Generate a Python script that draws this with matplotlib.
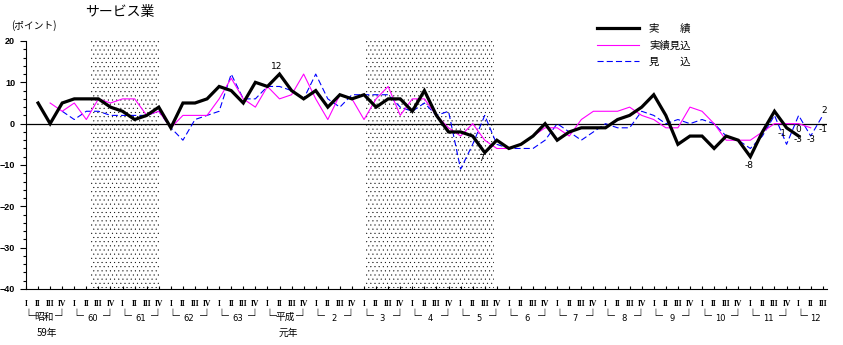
import numpy as np
import matplotlib
matplotlib.use("Agg")
import matplotlib.pyplot as plt
from matplotlib.ticker import MultipleLocator

plt.rcParams['font.family'] = ['Noto Sans CJK JP', 'DejaVu Sans']
plt.rcParams['hatch.linewidth'] = 0.25

nan = np.nan

# Quarterly series, 昭和59年 I  ...  平成12年 III
quarters = ["I", "II", "III", "IV"] * 16 + ["I", "II", "III"]
year_names = ["昭和", "60", "61", "62", "63", "平成", "2", "3", "4", "5",
              "6", "7", "8", "9", "10", "11", "12"]
year_sub = ["59年", "", "", "", "", "元年", "", "", "", "", "", "", "", "", "", "", ""]

actual = [nan, 5, 0, 5, 6, 6, 6, 4, 3, 1, 2, 4, -1, 5, 5, 6, 9, 8, 5, 10,
          9, 12, 8, 6, 8, 4, 7, 6, 7, 4, 6, 6, 3, 8, 2, -2, -2, -3, -7, -4,
          -6, -5, -3, 0, -4, -2, -1, -1, -1, 1, 2, 4, 7, 2, -5, -3, -3, -6, -3, -4,
          -8, -2, 3, -1, -3, nan, nan]
estimate = [nan, nan, 5, 3, 5, 1, 6, 5, 6, 6, 2, 3, -1, 2, 2, 2, 6, 11, 6, 4,
            9, 6, 7, 12, 6, 1, 7, 6, 1, 6, 9, 2, 6, 6, 2, -1, -3, 0, -4, -6,
            -6, -5, -3, -1, -1, -3, 1, 3, 3, 3, 4, 2, 1, -1, -1, 4, 3, 0, -4, -4,
            -4, -2, 0, 0, 0, -1, nan]
forecast = [nan, nan, nan, 3, 1, 3, 3, 2, 2, 2, 2, 3, -1, -4, 1, 2, 3, 12, 6, 6,
            9, 9, 8, 6, 12, 6, 4, 7, 7, 7, 7, 4, 3, 5, 2, 3, -11, -5, 2, -5,
            -6, -6, -6, -4, 0, -2, -4, -2, 0, -1, -1, 3, 2, 0, 1, 0, 1, 0, -3, -4,
            -6, -3, 2, -5, 2, -3, 2]

# Recession periods (in quarter index units)
recessions = [(5.4, 11.0), (28.2, 38.8)]

series_names = ["実　　績", "実績見込", "見　　込"]

x = np.arange(len(quarters))

fig = plt.figure(figsize=(8.43, 3.45), dpi=100)
ax = fig.add_axes([25.5 / 843, 1 - 289 / 345, (827 - 25.5) / 843, 248 / 345])

for a, b in recessions:
    ax.axvspan(a, b, facecolor='none', edgecolor='black', linewidth=0,
               hatch='....', zorder=0)

ax.axhline(0, color='black', lw=0.9, zorder=1)

l_act, = ax.plot(x, actual, color='black', lw=2.3, zorder=4,
                 solid_joinstyle='miter', label=series_names[0])
l_est, = ax.plot(x, estimate, color='#FF00FF', lw=0.8, zorder=3,
                 label=series_names[1])
l_fc, = ax.plot(x, forecast, color='#0000FF', lw=0.8, zorder=2,
                dashes=(5.5, 2.8), label=series_names[2])

# value call-outs
def callout(series, i, dx, dy):
    v = series[i]
    ax.annotate(f"{v:g}", (x[i], v), xytext=(dx, dy),
                textcoords='offset points', ha='center', va='center',
                fontsize=6.5, family=['DejaVu Sans'], zorder=6)

callout(actual, 21, -2, 5.5)
callout(actual, 38, -2.5, -4.5)
callout(actual, 60, -1, -6)
callout(actual, 63, -3, -3.8)
callout(actual, 64, -0.5, -2.8)
callout(estimate, 64, 0, -4.2)
callout(estimate, 65, 9, -1)
callout(forecast, 65, 0, -2.6)
callout(forecast, 66, 0.7, 3.6)

ax.set_xlim(-0.04, 66.35)
ax.set_ylim(-40, 20)

for s in ['top', 'right']:
    ax.spines[s].set_visible(False)
for s in ['left', 'bottom']:
    ax.spines[s].set_linewidth(0.8)

ax.yaxis.set_major_locator(MultipleLocator(10))
ax.yaxis.set_minor_locator(MultipleLocator(2))
ax.tick_params(axis='y', which='major', direction='out', length=4, width=0.8,
               pad=3.5, labelsize=6.5)
ax.tick_params(axis='y', which='minor', direction='out', length=2, width=0.8)
for t in ax.get_yticklabels():
    t.set_family(['Liberation Sans'])
    t.set_fontweight('bold')

ax.set_xticks(x)
ax.set_xticklabels(quarters)
ax.tick_params(axis='x', direction='in', length=2, width=0.8, pad=8)
for t in ax.get_xticklabels():
    t.set_family(['Liberation Serif'])
    t.set_fontweight('bold')
    t.set_fontsize(5.5)

# year brackets below the quarter labels
tr = ax.get_xaxis_transform()
yb = -0.112
for k, name in enumerate(year_names):
    i0 = 4 * k
    ax.text(i0 + 0.15, yb, "└", transform=tr, ha='center', va='center',
            fontsize=10, clip_on=False)
    if i0 + 3 < len(quarters):
        ax.text(i0 + 2.95, yb, "┘", transform=tr, ha='center', va='center',
                fontsize=10, clip_on=False)
        xc = i0 + 1.5
    else:
        xc = i0 + 1.4
    if name.isdigit():
        ax.text(xc, -0.117, name, transform=tr, ha='center', va='center',
                fontsize=6, family=['DejaVu Sans'], clip_on=False)
    else:
        ax.text(xc, -0.113, name, transform=tr, ha='center', va='center',
                fontsize=7, clip_on=False)
    if year_sub[k]:
        ax.text(i0 + 1.75, -0.178, year_sub[k], transform=tr, ha='center',
                va='center', fontsize=7, clip_on=False)

fig.text(120 / 843, 1 - 12 / 345, "サービス業", ha='center', va='center',
         fontsize=10)
fig.text(11 / 843, 1 - 26 / 345, "(ポイント)", ha='left', va='center',
         fontsize=7)

ax.legend(handles=[l_act, l_est, l_fc], loc='upper left',
          bbox_to_anchor=(597 / 843, 1 - 24 / 345),
          bbox_transform=fig.transFigure, frameon=False, fontsize=7.5,
          handlelength=4.0, handletextpad=1.0, labelspacing=0.6,
          borderpad=0, borderaxespad=0)

fig.savefig("out.png", dpi=100)
